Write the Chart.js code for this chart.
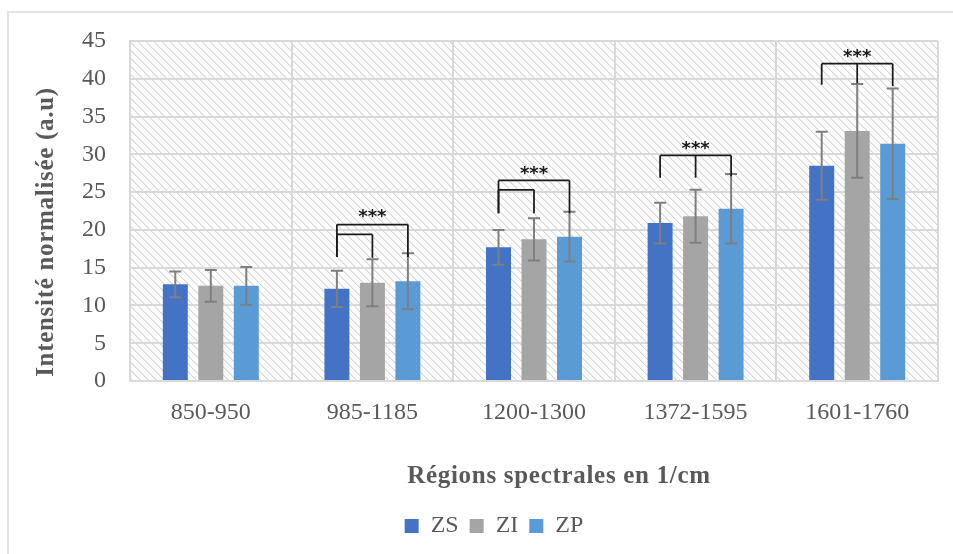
<!DOCTYPE html>
<html><head><meta charset="utf-8">
<script src="https://cdn.jsdelivr.net/npm/chart.js@4.4.1/dist/chart.umd.min.js"></script>
<style>html,body{margin:0;padding:0;background:#fff}#wrap{width:953px;height:554px;position:relative}</style>
</head><body><div id="wrap"><canvas id="c" width="953" height="554"></canvas></div>
<script>
// ---- data ----
const categories = ['850-950', '985-1185', '1200-1300', '1372-1595', '1601-1760'];
const seriesNames = ['ZS', 'ZI', 'ZP'];
const zsValues = [12.8, 12.2, 17.7, 20.9, 28.5];
const ziValues = [12.6, 13.0, 18.75, 21.8, 33.1];
const zpValues = [12.6, 13.2, 19.1, 22.8, 31.4];
const zsErrors = [1.7, 2.4, 2.3, 2.7, 4.5];
const ziErrors = [2.1, 3.1, 2.8, 3.5, 6.2];
const zpErrors = [2.5, 3.7, 3.3, 4.6, 7.3];
const yMin = 0, yMax = 45, yStep = 5;
const xAxisTitle = 'Régions spectrales en 1/cm';
const yAxisTitle = 'Intensité normalisée (a.u)';
// significance brackets (category index, series joined, top value, leg bottom values)
const bracketCats = [1, 1, 2, 2, 3, 4];
const bracketSeries = [[0, 2], [0, 1], [0, 2], [0, 1], [0, 1, 2], [0, 1, 2]];
const bracketTops = [20.7, 19.4, 26.55, 25.3, 29.85, 42.0];
const bracketBottoms = [[16.4, 16.4], [16.4, 16.3], [22.2, 22.2], [22.2, 22.2], [26.9, 26.9, 27.1], [39.2, 39.4, 39.0]];
const starCats = [1, 2, 3, 4];
const starValues = [22.4, 28.15, 31.5, 43.6];
const starLabel = '***';

// ---- style ----
const FONT = "'Liberation Serif', 'Times New Roman', serif";
const TEXT = '#595959';
const GRID = '#d9d9d9';
const colors = ['#4472C4', '#A5A5A5', '#5B9BD5'];
const allValues = [zsValues, ziValues, zpValues];
const allErrors = [zsErrors, ziErrors, zpErrors];

function makeHatch() {
  const c = document.createElement('canvas');
  c.width = 8; c.height = 8;
  const g = c.getContext('2d');
  g.fillStyle = '#ffffff'; g.fillRect(0, 0, 8, 8);
  for (let i = 0; i < 8; i++) {
    g.fillStyle = '#d6d6d6'; g.fillRect(i, i, 1, 1);
    g.fillStyle = '#ededed'; g.fillRect((i + 1) % 8, i, 1, 1);
  }
  return c;
}

const decor = {
  id: 'decor',
  beforeDraw(chart) {
    const { ctx, chartArea: a, width, height } = chart;
    ctx.save();
    ctx.fillStyle = '#fff';
    ctx.fillRect(0, 0, width, height);
    ctx.strokeStyle = GRID;
    ctx.lineWidth = 1.5;
    ctx.strokeRect(8, 12, width + 20, height + 20);
    ctx.fillStyle = ctx.createPattern(makeHatch(), 'repeat');
    ctx.fillRect(a.left, a.top, a.right - a.left, a.bottom - a.top);
    ctx.restore();
  },
  afterDatasetsDraw(chart) {
    const { ctx } = chart;
    const ys = chart.scales.y, xs = chart.scales.x;
    ctx.save();
    // error bars
    ctx.strokeStyle = '#7f7f7f';
    ctx.lineWidth = 2;
    allValues.forEach((vals, d) => {
      const meta = chart.getDatasetMeta(d);
      vals.forEach((v, i) => {
        const x = meta.data[i].x;
        const t = ys.getPixelForValue(v + allErrors[d][i]);
        const b = ys.getPixelForValue(v - allErrors[d][i]);
        ctx.beginPath();
        ctx.moveTo(x, t); ctx.lineTo(x, b);
        ctx.moveTo(x - 6, t); ctx.lineTo(x + 6, t);
        ctx.moveTo(x - 6, b); ctx.lineTo(x + 6, b);
        ctx.stroke();
      });
    });
    // brackets
    ctx.strokeStyle = '#1a1a1a';
    ctx.lineWidth = 1.75;
    bracketCats.forEach((cat, k) => {
      const ser = bracketSeries[k];
      const xsPix = ser.map(s => chart.getDatasetMeta(s).data[cat].x);
      const top = ys.getPixelForValue(bracketTops[k]);
      ctx.beginPath();
      ctx.moveTo(xsPix[0], top);
      ctx.lineTo(xsPix[xsPix.length - 1], top);
      xsPix.forEach((x, j) => {
        ctx.moveTo(x, top);
        ctx.lineTo(x, ys.getPixelForValue(bracketBottoms[k][j]));
      });
      ctx.stroke();
    });
    // stars
    ctx.fillStyle = '#1a1a1a';
    ctx.font = "bold 18px 'DejaVu Sans', sans-serif";
    ctx.textAlign = 'center';
    ctx.textBaseline = 'alphabetic';
    starCats.forEach((cat, k) => {
      ctx.fillText(starLabel, xs.getPixelForValue(cat), ys.getPixelForValue(starValues[k]) + 10.5);
    });
    ctx.restore();
  },
  afterDraw(chart) {
    const { ctx, chartArea: a } = chart;
    ctx.save();
    ctx.fillStyle = TEXT;
    ctx.font = 'bold 25px ' + FONT;
    try { ctx.letterSpacing = '0.7px'; } catch (e) {}
    ctx.textAlign = 'center';
    ctx.textBaseline = 'alphabetic';
    ctx.fillText(xAxisTitle, (a.left + a.right) / 2 + 25, a.bottom + 102);
    ctx.translate(a.left - 77, (a.top + a.bottom) / 2 + 21);
    ctx.rotate(-Math.PI / 2);
    ctx.fillText(yAxisTitle, 0, 0);
    ctx.restore();
  }
};

Chart.defaults.font.family = FONT;
Chart.defaults.color = TEXT;

new Chart(document.getElementById('c'), {
  type: 'bar',
  data: {
    labels: categories,
    datasets: seriesNames.map((n, d) => ({
      label: n,
      data: allValues[d],
      backgroundColor: colors[d],
      borderWidth: 0,
      categoryPercentage: 0.659,
      barPercentage: 0.704
    }))
  },
  options: {
    responsive: false,
    animation: false,
    devicePixelRatio: 1,
    layout: { padding: { top: 41, left: 50, right: 15, bottom: 6 } },
    plugins: {
      tooltip: { enabled: false },
      legend: {
        position: 'bottom',
        labels: { boxWidth: 14, boxHeight: 14, padding: 11, color: TEXT, font: { size: 24, family: FONT } }
      }
    },
    scales: {
      x: {
        grid: { color: GRID, lineWidth: 2, drawTicks: false, offset: true },
        border: { color: GRID, width: 2 },
        ticks: { padding: 17, color: TEXT, font: { size: 24, family: FONT }, maxRotation: 0 },
        afterFit(s) { s.height = 122; }
      },
      y: {
        min: yMin, max: yMax,
        grid: { color: GRID, lineWidth: 2, drawTicks: false },
        border: { color: GRID, width: 2 },
        ticks: { stepSize: yStep, padding: 24, color: TEXT, font: { size: 24, family: FONT } },
        afterFit(s) { s.width = 80; }
      }
    }
  },
  plugins: [decor]
});
</script>
</body></html>
